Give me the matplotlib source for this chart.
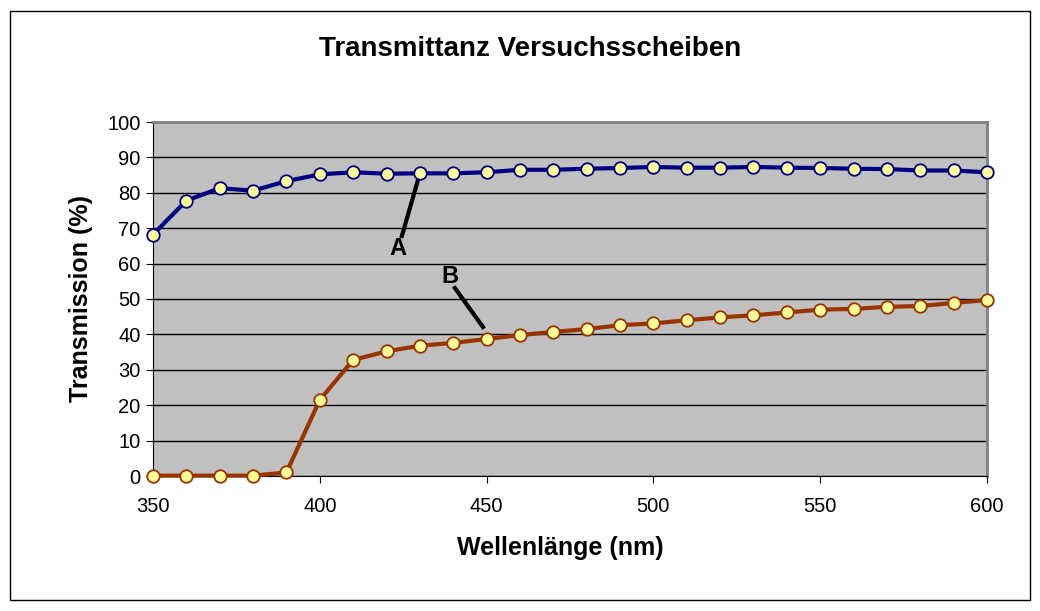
from matplotlib import pyplot as plt
from matplotlib.patches import Rectangle

plt.rcParams['font.family'] = ['Liberation Sans', 'DejaVu Sans']

wl = list(range(350, 601, 10))
trans_a = [68.2, 77.8, 81.3, 80.6, 83.3, 85.2, 85.8, 85.4, 85.5, 85.5, 85.8, 86.5, 86.5,
           86.8, 87.0, 87.3, 87.1, 87.1, 87.3, 87.1, 87.0, 86.8, 86.7, 86.3, 86.3, 85.8]
trans_b = [0.1, 0.1, 0.1, 0.1, 1.0, 21.5, 32.8, 35.2, 36.8, 37.6, 38.7, 39.8, 40.7,
           41.5, 42.6, 43.1, 44.0, 44.8, 45.4, 46.2, 47.0, 47.2, 47.8, 48.0, 48.9, 49.7]

fig = plt.figure(figsize=(10.4, 6.11), dpi=100)
fig.patches.append(Rectangle((10/1040, 11/611), 1020/1040, 589/611, transform=fig.transFigure,
                             fill=False, edgecolor='black', linewidth=1))
ax = fig.add_axes([153/1040, 1 - 476/611, 834/1040, 354/611])
ax.set_facecolor('#C0C0C0')

ax.plot(wl, trans_a, '-o', color='#000080', lw=3, ms=9, mfc='#FFFF99', mec='#000080', mew=1.3, clip_on=False, zorder=3)
ax.plot(wl, trans_b, '-o', color='#993300', lw=3, ms=9, mfc='#FFFF99', mec='#993300', mew=1.3, clip_on=False, zorder=3)

ax.set_xlim(350, 600)
ax.set_ylim(0, 100)
ax.set_xticks(range(350, 601, 50))
ax.set_yticks(range(0, 101, 10))
ax.yaxis.grid(True, color='black', lw=1)
ax.set_axisbelow(True)
for s in ['top', 'right']:
    ax.spines[s].set_color('#808080')
    ax.spines[s].set_linewidth(2)
ax.tick_params(labelsize=14.5, length=5, direction='out')
ax.tick_params(axis='x', pad=10)
ax.tick_params(axis='y', pad=4)

fig.text(530/1040, 1 - 49/611, "Transmittanz Versuchsscheiben", fontsize=20, fontweight='bold',
         ha='center', va='center')
ax.set_xlabel("Wellenlänge (nm)", fontsize=18, fontweight='bold')
ax.xaxis.set_label_coords((560 - 153) / 834, -(548 - 476) / 354, transform=ax.transAxes)
ax.xaxis.label.set_va('center')
ax.set_ylabel("Transmission (%)", fontsize=18, fontweight='bold', labelpad=10)

# callout lines
ax.plot([430, 424.6], [85.5, 67.8], color='black', lw=3, zorder=2)
ax.text(423.4, 64.4, 'A', fontsize=17, fontweight='bold', ha='center', va='center')
ax.plot([440.5, 448.9], [53.1, 42.1], color='black', lw=3, zorder=2)
ax.text(439.0, 56.4, 'B', fontsize=17, fontweight='bold', ha='center', va='center')

plt.savefig("out.png")
